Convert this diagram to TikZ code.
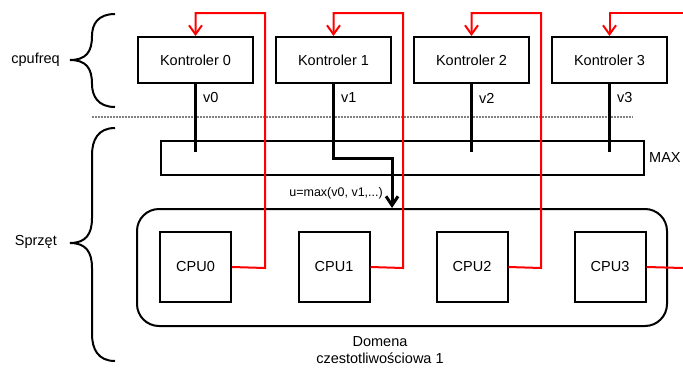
\documentclass[tikz,border=0pt]{standalone}
\usepackage{fontspec}
\setmainfont{Liberation Sans}
\usetikzlibrary{arrows.meta}
\begin{document}
\begin{tikzpicture}[x=1pt,y=-1pt,
  every node/.style={font=\fontsize{14.5}{17}\selectfont},
  ctrl/.style={draw,line width=2pt,minimum width=115pt,minimum height=46pt,inner sep=0pt},
  cpubox/.style={draw,line width=2pt,minimum width=71pt,minimum height=70pt,inner sep=0pt},
  vline/.style={line width=3pt},
  redline/.style={red,line width=2pt},
  redarrow/.style={red,line width=2pt,-{Straight Barb[length=9pt,width=13pt]}},
  brace/.style={line width=2pt},
  lbl/.style={inner sep=0pt}
]
\useasboundingbox (0,0) rectangle (683,367);

% braces
\draw[brace] (115,14) .. controls (98,14) and (92,24) .. (92,36)
  .. controls (92,52) and (86,60) .. (70,60)
  .. controls (86,60) and (92,68) .. (92,84)
  .. controls (92,96) and (98,107) .. (115,107);
\draw[brace] (115,128) .. controls (98,128) and (92,140) .. (92,155)
  -- (92,218) .. controls (92,234) and (86,243) .. (70,243)
  .. controls (86,243) and (92,252) .. (92,268)
  -- (92,334) .. controls (92,349) and (98,361) .. (115,361);
\node[lbl,anchor=east] (cpufreq) at (60,60) {cpufreq};
\node[lbl,anchor=east] (sprzet) at (57,242) {Sprzęt};

% dotted separator
\draw[gray,line width=1.5pt,dash pattern=on 1.5pt off 1.5pt] (92,117) -- (633,117);

% controllers
\node[ctrl] (k0) at (195.5,60) {Kontroler 0};
\node[ctrl] (k1) at (333.5,60) {Kontroler 1};
\node[ctrl] (k2) at (471.5,60) {Kontroler 2};
\node[ctrl] (k3) at (609.5,60) {Kontroler 3};

% MAX box
\node[draw,line width=2pt,minimum width=483pt,minimum height=34pt,inner sep=0pt] (max) at (402.5,158) {};
\node[lbl,anchor=west] (maxl) at (649,158) {MAX};

% domain
\node[draw,line width=2pt,rounded corners=22pt,minimum width=530pt,minimum height=117pt,inner sep=0pt] (dom) at (402,267.5) {};
\node[lbl,align=center,anchor=north] (doml) at (380,336) {Domena\\[0pt]czestotliwościowa 1};

% CPUs
\node[cpubox] (c0) at (195.5,267) {CPU0};
\node[cpubox] (c1) at (334,267) {CPU1};
\node[cpubox] (c2) at (472,267) {CPU2};
\node[cpubox] (c3) at (610,267) {CPU3};

% value lines
\coordinate (e0) at (195.5,152);
\coordinate (e2) at (471.5,152);
\coordinate (e3) at (609.5,152);
\draw[vline] (k0.south) -- (e0);
\draw[vline] (k2.south) -- (e2);
\draw[vline] (k3.south) -- (e3);
\draw[vline,-{Straight Barb[length=9pt,width=12pt]}] (k1.south) -- (333.5,158) -- (392,158) -- (392,208);
\node[lbl,anchor=west] (v0) at (203,98) {v0};
\node[lbl,anchor=west] (v1) at (341,98) {v1};
\node[lbl,anchor=west] (v2) at (479,98) {v2};
\node[lbl,anchor=west] (v3) at (617,98) {v3};
\node[lbl,anchor=east,font=\fontsize{12.5}{14}\selectfont] (ul) at (383,193) {u=max(v0, v1,...)};

% red feedback
\draw[redarrow] (c0.east) -- (265,268) -- (265,13) -- (195.5,13) -- (k0.north);
\draw[redarrow] (c1.east) -- (403,268) -- (403,13) -- (333.5,13) -- (k1.north);
\draw[redarrow] (c2.east) -- (541,268) -- (541,13) -- (471.5,13) -- (k2.north);
\coordinate (r3a) at (683,268);
\coordinate (r3b) at (683,13);
\draw[redline] (c3.east) -- (r3a);
\draw[redarrow] (r3b) -- (609.5,13) -- (k3.north);
\end{tikzpicture}
\end{document}
